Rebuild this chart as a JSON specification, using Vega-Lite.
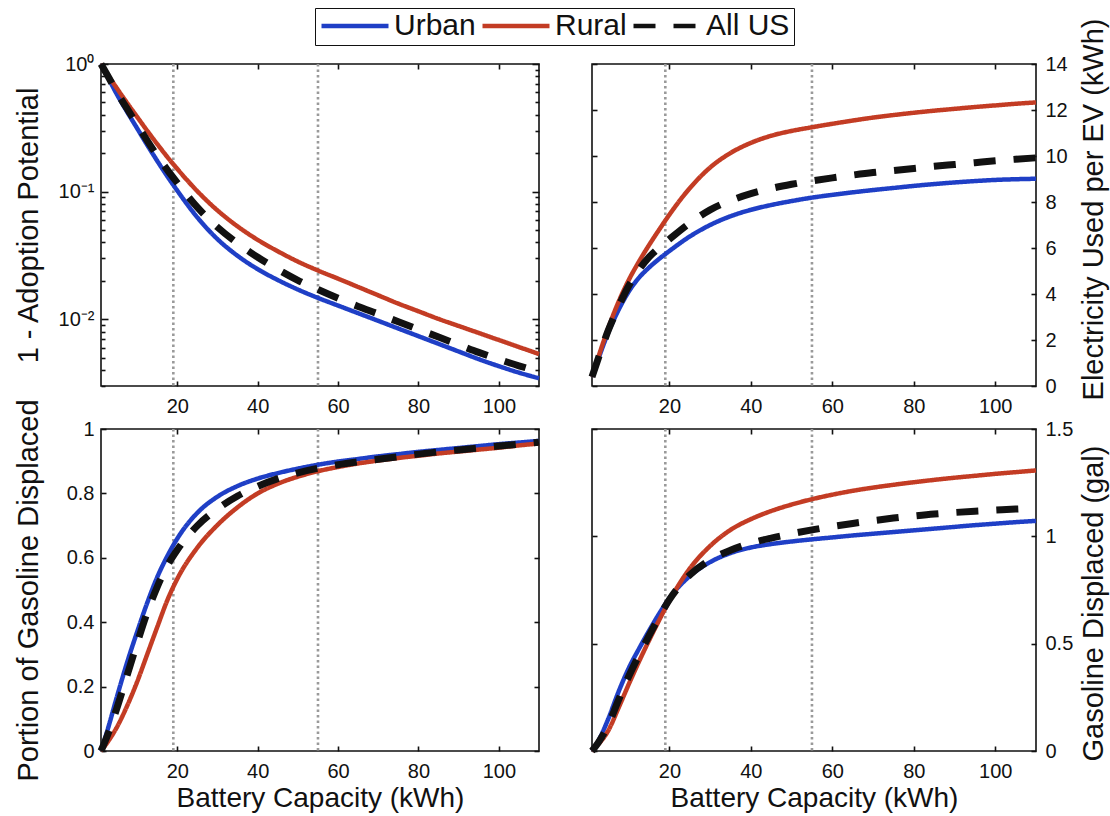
{
  "$schema": "https://vega.github.io/schema/vega-lite/v6.json",
  "background": "white",
  "padding": {"left": 13, "top": 7, "right": 5, "bottom": 5},
  "config": {
    "font": "Liberation Sans",
    "view": {"stroke": "#111111", "strokeWidth": 1.6},
    "axis": {
      "domain": false, "grid": false, "tickColor": "#111111", "tickWidth": 1.6, "tickSize": -5,
      "labelFont": "Liberation Sans", "labelFontSize": 20, "labelColor": "#111111",
      "titleFont": "Liberation Sans", "titleFontSize": 28, "titleFontWeight": "normal", "titleColor": "#111111"
    },
    "axisY": {"titleFontSize": 29},
    "legend": {
      "orient": "none", "legendX": 214, "legendY": -56, "direction": "horizontal",
      "labelFont": "Liberation Sans", "labelFontSize": 30, "labelColor": "#111111", "labelLimit": 0,
      "symbolType": "stroke", "symbolSize": 4489, "symbolStrokeWidth": 4.5, "clipHeight": 28,
      "strokeColor": "#111111", "fillColor": "white", "padding": 4, "columnPadding": 4, "labelOffset": 3
    }
  },
  "datasets": {
    "refs": [{"kwh": 19}, {"kwh": 55}],
    "adopt": [
      {"r":"Urban","kwh":1,"v":1.0},{"r":"Urban","kwh":2.5,"v":0.813},{"r":"Urban","kwh":5,"v":0.575},{"r":"Urban","kwh":7.5,"v":0.422},{"r":"Urban","kwh":10,"v":0.313},{"r":"Urban","kwh":12.5,"v":0.232},{"r":"Urban","kwh":15,"v":0.174},{"r":"Urban","kwh":17.5,"v":0.132},{"r":"Urban","kwh":20,"v":0.1017},{"r":"Urban","kwh":25,"v":0.0627},{"r":"Urban","kwh":30,"v":0.0424},{"r":"Urban","kwh":35,"v":0.0314},{"r":"Urban","kwh":40,"v":0.0247},{"r":"Urban","kwh":45,"v":0.0203},{"r":"Urban","kwh":50,"v":0.0171},{"r":"Urban","kwh":55,"v":0.0147},{"r":"Urban","kwh":60,"v":0.0128},{"r":"Urban","kwh":65,"v":0.01115},{"r":"Urban","kwh":70,"v":0.00972},{"r":"Urban","kwh":75,"v":0.00846},{"r":"Urban","kwh":80,"v":0.00737},{"r":"Urban","kwh":85,"v":0.00642},{"r":"Urban","kwh":90,"v":0.00559},{"r":"Urban","kwh":95,"v":0.00487},{"r":"Urban","kwh":100,"v":0.00429},{"r":"Urban","kwh":105,"v":0.00382},{"r":"Urban","kwh":110,"v":0.00345},
      {"r":"Rural","kwh":1,"v":1.0},{"r":"Rural","kwh":2.5,"v":0.841},{"r":"Rural","kwh":5,"v":0.642},{"r":"Rural","kwh":7.5,"v":0.495},{"r":"Rural","kwh":10,"v":0.385},{"r":"Rural","kwh":12.5,"v":0.300},{"r":"Rural","kwh":15,"v":0.236},{"r":"Rural","kwh":17.5,"v":0.187},{"r":"Rural","kwh":20,"v":0.1505},{"r":"Rural","kwh":25,"v":0.1006},{"r":"Rural","kwh":30,"v":0.0712},{"r":"Rural","kwh":35,"v":0.0534},{"r":"Rural","kwh":40,"v":0.0419},{"r":"Rural","kwh":45,"v":0.0341},{"r":"Rural","kwh":50,"v":0.0283},{"r":"Rural","kwh":55,"v":0.0241},{"r":"Rural","kwh":60,"v":0.0208},{"r":"Rural","kwh":65,"v":0.0179},{"r":"Rural","kwh":70,"v":0.0154},{"r":"Rural","kwh":75,"v":0.01326},{"r":"Rural","kwh":80,"v":0.01155},{"r":"Rural","kwh":85,"v":0.01006},{"r":"Rural","kwh":90,"v":0.00886},{"r":"Rural","kwh":95,"v":0.00781},{"r":"Rural","kwh":100,"v":0.00688},{"r":"Rural","kwh":105,"v":0.00606},{"r":"Rural","kwh":110,"v":0.00534},
      {"r":"All US","kwh":1,"v":1.0},{"r":"All US","kwh":2.5,"v":0.829},{"r":"All US","kwh":5,"v":0.598},{"r":"All US","kwh":7.5,"v":0.447},{"r":"All US","kwh":10,"v":0.335},{"r":"All US","kwh":12.5,"v":0.251},{"r":"All US","kwh":15,"v":0.191},{"r":"All US","kwh":17.5,"v":0.148},{"r":"All US","kwh":20,"v":0.117},{"r":"All US","kwh":25,"v":0.0752},{"r":"All US","kwh":30,"v":0.0526},{"r":"All US","kwh":35,"v":0.0393},{"r":"All US","kwh":40,"v":0.0306},{"r":"All US","kwh":45,"v":0.0246},{"r":"All US","kwh":50,"v":0.0202},{"r":"All US","kwh":55,"v":0.0171},{"r":"All US","kwh":60,"v":0.0146},{"r":"All US","kwh":65,"v":0.0126},{"r":"All US","kwh":70,"v":0.0110},{"r":"All US","kwh":75,"v":0.00956},{"r":"All US","kwh":80,"v":0.00833},{"r":"All US","kwh":85,"v":0.00725},{"r":"All US","kwh":90,"v":0.00632},{"r":"All US","kwh":95,"v":0.0055},{"r":"All US","kwh":100,"v":0.00485},{"r":"All US","kwh":105,"v":0.00432},{"r":"All US","kwh":110,"v":0.0039}
    ],
    "elec": [
      {"r":"Urban","kwh":1,"v":0.4},{"r":"Urban","kwh":2.5,"v":1.15},{"r":"Urban","kwh":5,"v":2.33},{"r":"Urban","kwh":7.5,"v":3.3},{"r":"Urban","kwh":10,"v":4.1},{"r":"Urban","kwh":12.5,"v":4.7},{"r":"Urban","kwh":15,"v":5.15},{"r":"Urban","kwh":17.5,"v":5.53},{"r":"Urban","kwh":20,"v":5.87},{"r":"Urban","kwh":25,"v":6.5},{"r":"Urban","kwh":30,"v":7.0},{"r":"Urban","kwh":35,"v":7.38},{"r":"Urban","kwh":40,"v":7.66},{"r":"Urban","kwh":45,"v":7.87},{"r":"Urban","kwh":50,"v":8.04},{"r":"Urban","kwh":55,"v":8.19},{"r":"Urban","kwh":60,"v":8.31},{"r":"Urban","kwh":65,"v":8.42},{"r":"Urban","kwh":70,"v":8.52},{"r":"Urban","kwh":75,"v":8.61},{"r":"Urban","kwh":80,"v":8.7},{"r":"Urban","kwh":85,"v":8.78},{"r":"Urban","kwh":90,"v":8.85},{"r":"Urban","kwh":95,"v":8.91},{"r":"Urban","kwh":100,"v":8.96},{"r":"Urban","kwh":105,"v":8.99},{"r":"Urban","kwh":110,"v":9.01},
      {"r":"Rural","kwh":1,"v":0.4},{"r":"Rural","kwh":2.5,"v":1.225},{"r":"Rural","kwh":5,"v":2.525},{"r":"Rural","kwh":7.5,"v":3.65},{"r":"Rural","kwh":10,"v":4.6},{"r":"Rural","kwh":12.5,"v":5.4},{"r":"Rural","kwh":15,"v":6.125},{"r":"Rural","kwh":17.5,"v":6.8},{"r":"Rural","kwh":20,"v":7.45},{"r":"Rural","kwh":25,"v":8.6},{"r":"Rural","kwh":30,"v":9.5},{"r":"Rural","kwh":35,"v":10.13},{"r":"Rural","kwh":40,"v":10.57},{"r":"Rural","kwh":45,"v":10.88},{"r":"Rural","kwh":50,"v":11.09},{"r":"Rural","kwh":55,"v":11.25},{"r":"Rural","kwh":60,"v":11.4},{"r":"Rural","kwh":65,"v":11.54},{"r":"Rural","kwh":70,"v":11.67},{"r":"Rural","kwh":75,"v":11.78},{"r":"Rural","kwh":80,"v":11.88},{"r":"Rural","kwh":85,"v":11.97},{"r":"Rural","kwh":90,"v":12.05},{"r":"Rural","kwh":95,"v":12.13},{"r":"Rural","kwh":100,"v":12.2},{"r":"Rural","kwh":105,"v":12.27},{"r":"Rural","kwh":110,"v":12.33},
      {"r":"All US","kwh":1,"v":0.4},{"r":"All US","kwh":2.5,"v":1.18},{"r":"All US","kwh":5,"v":2.42},{"r":"All US","kwh":7.5,"v":3.45},{"r":"All US","kwh":10,"v":4.35},{"r":"All US","kwh":12.5,"v":5.05},{"r":"All US","kwh":15,"v":5.6},{"r":"All US","kwh":17.5,"v":6.02},{"r":"All US","kwh":20,"v":6.38},{"r":"All US","kwh":25,"v":7.08},{"r":"All US","kwh":30,"v":7.66},{"r":"All US","kwh":35,"v":8.06},{"r":"All US","kwh":40,"v":8.36},{"r":"All US","kwh":45,"v":8.59},{"r":"All US","kwh":50,"v":8.77},{"r":"All US","kwh":55,"v":8.92},{"r":"All US","kwh":60,"v":9.05},{"r":"All US","kwh":65,"v":9.17},{"r":"All US","kwh":70,"v":9.28},{"r":"All US","kwh":75,"v":9.37},{"r":"All US","kwh":80,"v":9.46},{"r":"All US","kwh":85,"v":9.55},{"r":"All US","kwh":90,"v":9.63},{"r":"All US","kwh":95,"v":9.71},{"r":"All US","kwh":100,"v":9.79},{"r":"All US","kwh":105,"v":9.86},{"r":"All US","kwh":110,"v":9.92}
    ],
    "frac": [
      {"r":"Urban","kwh":1,"v":0.0},{"r":"Urban","kwh":2.5,"v":0.06},{"r":"Urban","kwh":5,"v":0.17},{"r":"Urban","kwh":7.5,"v":0.275},{"r":"Urban","kwh":10,"v":0.37},{"r":"Urban","kwh":12.5,"v":0.46},{"r":"Urban","kwh":15,"v":0.54},{"r":"Urban","kwh":17.5,"v":0.605},{"r":"Urban","kwh":20,"v":0.66},{"r":"Urban","kwh":25,"v":0.74},{"r":"Urban","kwh":30,"v":0.79},{"r":"Urban","kwh":35,"v":0.823},{"r":"Urban","kwh":40,"v":0.846},{"r":"Urban","kwh":45,"v":0.863},{"r":"Urban","kwh":50,"v":0.877},{"r":"Urban","kwh":55,"v":0.889},{"r":"Urban","kwh":60,"v":0.899},{"r":"Urban","kwh":65,"v":0.907},{"r":"Urban","kwh":70,"v":0.915},{"r":"Urban","kwh":75,"v":0.922},{"r":"Urban","kwh":80,"v":0.929},{"r":"Urban","kwh":85,"v":0.935},{"r":"Urban","kwh":90,"v":0.941},{"r":"Urban","kwh":95,"v":0.947},{"r":"Urban","kwh":100,"v":0.953},{"r":"Urban","kwh":105,"v":0.958},{"r":"Urban","kwh":110,"v":0.963},
      {"r":"Rural","kwh":1,"v":0.0},{"r":"Rural","kwh":2.5,"v":0.025},{"r":"Rural","kwh":5,"v":0.075},{"r":"Rural","kwh":7.5,"v":0.14},{"r":"Rural","kwh":10,"v":0.215},{"r":"Rural","kwh":12.5,"v":0.3},{"r":"Rural","kwh":15,"v":0.385},{"r":"Rural","kwh":17.5,"v":0.468},{"r":"Rural","kwh":20,"v":0.535},{"r":"Rural","kwh":25,"v":0.632},{"r":"Rural","kwh":30,"v":0.702},{"r":"Rural","kwh":35,"v":0.757},{"r":"Rural","kwh":40,"v":0.8},{"r":"Rural","kwh":45,"v":0.83},{"r":"Rural","kwh":50,"v":0.852},{"r":"Rural","kwh":55,"v":0.869},{"r":"Rural","kwh":60,"v":0.882},{"r":"Rural","kwh":65,"v":0.893},{"r":"Rural","kwh":70,"v":0.902},{"r":"Rural","kwh":75,"v":0.91},{"r":"Rural","kwh":80,"v":0.917},{"r":"Rural","kwh":85,"v":0.924},{"r":"Rural","kwh":90,"v":0.93},{"r":"Rural","kwh":95,"v":0.936},{"r":"Rural","kwh":100,"v":0.942},{"r":"Rural","kwh":105,"v":0.949},{"r":"Rural","kwh":110,"v":0.955},
      {"r":"All US","kwh":1,"v":0.0},{"r":"All US","kwh":2.5,"v":0.045},{"r":"All US","kwh":5,"v":0.135},{"r":"All US","kwh":7.5,"v":0.235},{"r":"All US","kwh":10,"v":0.335},{"r":"All US","kwh":12.5,"v":0.43},{"r":"All US","kwh":15,"v":0.51},{"r":"All US","kwh":17.5,"v":0.575},{"r":"All US","kwh":20,"v":0.625},{"r":"All US","kwh":25,"v":0.7},{"r":"All US","kwh":30,"v":0.752},{"r":"All US","kwh":35,"v":0.792},{"r":"All US","kwh":40,"v":0.822},{"r":"All US","kwh":45,"v":0.846},{"r":"All US","kwh":50,"v":0.864},{"r":"All US","kwh":55,"v":0.878},{"r":"All US","kwh":60,"v":0.889},{"r":"All US","kwh":65,"v":0.898},{"r":"All US","kwh":70,"v":0.906},{"r":"All US","kwh":75,"v":0.914},{"r":"All US","kwh":80,"v":0.922},{"r":"All US","kwh":85,"v":0.929},{"r":"All US","kwh":90,"v":0.935},{"r":"All US","kwh":95,"v":0.941},{"r":"All US","kwh":100,"v":0.947},{"r":"All US","kwh":105,"v":0.953},{"r":"All US","kwh":110,"v":0.959}
    ],
    "gal": [
      {"r":"Urban","kwh":1,"v":0.0},{"r":"Urban","kwh":2.5,"v":0.045},{"r":"Urban","kwh":5,"v":0.15},{"r":"Urban","kwh":7.5,"v":0.275},{"r":"Urban","kwh":10,"v":0.385},{"r":"Urban","kwh":12.5,"v":0.475},{"r":"Urban","kwh":15,"v":0.56},{"r":"Urban","kwh":17.5,"v":0.64},{"r":"Urban","kwh":20,"v":0.712},{"r":"Urban","kwh":25,"v":0.815},{"r":"Urban","kwh":30,"v":0.88},{"r":"Urban","kwh":35,"v":0.922},{"r":"Urban","kwh":40,"v":0.948},{"r":"Urban","kwh":45,"v":0.964},{"r":"Urban","kwh":50,"v":0.976},{"r":"Urban","kwh":55,"v":0.986},{"r":"Urban","kwh":60,"v":0.995},{"r":"Urban","kwh":65,"v":1.004},{"r":"Urban","kwh":70,"v":1.012},{"r":"Urban","kwh":75,"v":1.02},{"r":"Urban","kwh":80,"v":1.028},{"r":"Urban","kwh":85,"v":1.036},{"r":"Urban","kwh":90,"v":1.044},{"r":"Urban","kwh":95,"v":1.052},{"r":"Urban","kwh":100,"v":1.059},{"r":"Urban","kwh":105,"v":1.066},{"r":"Urban","kwh":110,"v":1.072},
      {"r":"Rural","kwh":1,"v":0.0},{"r":"Rural","kwh":2.5,"v":0.03},{"r":"Rural","kwh":5,"v":0.095},{"r":"Rural","kwh":7.5,"v":0.2},{"r":"Rural","kwh":10,"v":0.31},{"r":"Rural","kwh":12.5,"v":0.415},{"r":"Rural","kwh":15,"v":0.515},{"r":"Rural","kwh":17.5,"v":0.61},{"r":"Rural","kwh":20,"v":0.7},{"r":"Rural","kwh":25,"v":0.85},{"r":"Rural","kwh":30,"v":0.955},{"r":"Rural","kwh":35,"v":1.03},{"r":"Rural","kwh":40,"v":1.08},{"r":"Rural","kwh":45,"v":1.118},{"r":"Rural","kwh":50,"v":1.148},{"r":"Rural","kwh":55,"v":1.173},{"r":"Rural","kwh":60,"v":1.194},{"r":"Rural","kwh":65,"v":1.212},{"r":"Rural","kwh":70,"v":1.227},{"r":"Rural","kwh":75,"v":1.24},{"r":"Rural","kwh":80,"v":1.252},{"r":"Rural","kwh":85,"v":1.263},{"r":"Rural","kwh":90,"v":1.273},{"r":"Rural","kwh":95,"v":1.282},{"r":"Rural","kwh":100,"v":1.291},{"r":"Rural","kwh":105,"v":1.299},{"r":"Rural","kwh":110,"v":1.307},
      {"r":"All US","kwh":1,"v":0.0},{"r":"All US","kwh":2.5,"v":0.038},{"r":"All US","kwh":5,"v":0.122},{"r":"All US","kwh":7.5,"v":0.237},{"r":"All US","kwh":10,"v":0.347},{"r":"All US","kwh":12.5,"v":0.445},{"r":"All US","kwh":15,"v":0.537},{"r":"All US","kwh":17.5,"v":0.625},{"r":"All US","kwh":20,"v":0.705},{"r":"All US","kwh":25,"v":0.82},{"r":"All US","kwh":30,"v":0.89},{"r":"All US","kwh":35,"v":0.935},{"r":"All US","kwh":40,"v":0.968},{"r":"All US","kwh":45,"v":0.992},{"r":"All US","kwh":50,"v":1.012},{"r":"All US","kwh":55,"v":1.03},{"r":"All US","kwh":60,"v":1.046},{"r":"All US","kwh":65,"v":1.06},{"r":"All US","kwh":70,"v":1.073},{"r":"All US","kwh":75,"v":1.085},{"r":"All US","kwh":80,"v":1.095},{"r":"All US","kwh":85,"v":1.104},{"r":"All US","kwh":90,"v":1.111},{"r":"All US","kwh":95,"v":1.117},{"r":"All US","kwh":100,"v":1.122},{"r":"All US","kwh":105,"v":1.127},{"r":"All US","kwh":110,"v":1.131}
    ]
  },
  "columns": 2,
  "spacing": {"row": 43, "column": 53},
  "bounds": "flush",
  "resolve": {"scale": {"color": "shared", "strokeDash": "shared"}},
  "concat": [
    {
      "width": 438, "height": 322,
      "layer": [
        {"data": {"name": "refs"}, "mark": {"type": "rule", "color": "#9a9a9a", "strokeWidth": 2.6, "strokeDash": [2.5, 3]},
         "encoding": {"x": {"field": "kwh", "type": "quantitative", "scale": {"domain": [1, 110], "nice": false, "zero": false}, "axis": {"orient": "top", "values": [20, 40, 60, 80, 100], "labels": false, "title": null}}}},
        {"data": {"name": "adopt"}, "mark": {"type": "line", "interpolate": "monotone", "strokeCap": "butt"},
         "encoding": {
           "x": {"field": "kwh", "type": "quantitative", "scale": {"domain": [1, 110], "nice": false, "zero": false}, "axis": {"orient": "bottom", "values": [20, 40, 60, 80, 100], "title": null, "labelPadding": 15}},
           "y": {"field": "v", "type": "quantitative", "scale": {"type": "log", "domain": [0.003, 1], "nice": false}, "axis": {"orient": "left", "values": [0.01, 0.1, 1], "labelExpr": "datum.value > 0.5 ? '10⁰' : datum.value > 0.05 ? '10⁻¹' : '10⁻²'", "tickSize": -7, "labelPadding": 14, "title": "1 - Adoption Potential", "titleBaseline": "alphabetic", "titleX": -64}},
           "color": {"field": "r", "type": "nominal", "scale": {"domain": ["Urban", "Rural", "All US"], "range": ["#1f3fc6", "#c33c24", "#111111"]}, "legend": {"title": null}},
           "strokeDash": {"field": "r", "type": "nominal", "scale": {"domain": ["Urban", "Rural", "All US"], "range": [[1, 0], [1, 0], [22, 18]]}, "legend": {"title": null}},
           "strokeWidth": {"condition": {"test": "datum.r === 'All US'", "value": 7}, "value": 4.5}
         }},
        {"data": {"name": "adopt"}, "mark": {"type": "point", "opacity": 0},
         "encoding": {"x": {"field": "kwh", "type": "quantitative", "scale": {"domain": [1, 110], "nice": false, "zero": false}, "axis": null},
           "y": {"field": "v", "type": "quantitative", "scale": {"type": "log", "domain": [0.003, 1], "nice": false}, "axis": {"orient": "right", "values": [0.01, 0.1, 1], "labels": false, "title": null, "tickSize": -7}}}},
        {"data": {"name": "adopt"}, "mark": {"type": "point", "opacity": 0},
         "encoding": {"x": {"field": "kwh", "type": "quantitative", "scale": {"domain": [1, 110], "nice": false, "zero": false}, "axis": null},
           "y": {"field": "v", "type": "quantitative", "scale": {"type": "log", "domain": [0.003, 1], "nice": false}, "axis": {"orient": "left", "values": [0.003, 0.004, 0.005, 0.006, 0.007, 0.008, 0.009, 0.02, 0.03, 0.04, 0.05, 0.06, 0.07, 0.08, 0.09, 0.2, 0.3, 0.4, 0.5, 0.6, 0.7, 0.8, 0.9], "labels": false, "title": null, "tickSize": -4}}}},
        {"data": {"name": "adopt"}, "mark": {"type": "point", "opacity": 0},
         "encoding": {"x": {"field": "kwh", "type": "quantitative", "scale": {"domain": [1, 110], "nice": false, "zero": false}, "axis": null},
           "y": {"field": "v", "type": "quantitative", "scale": {"type": "log", "domain": [0.003, 1], "nice": false}, "axis": {"orient": "right", "values": [0.003, 0.004, 0.005, 0.006, 0.007, 0.008, 0.009, 0.02, 0.03, 0.04, 0.05, 0.06, 0.07, 0.08, 0.09, 0.2, 0.3, 0.4, 0.5, 0.6, 0.7, 0.8, 0.9], "labels": false, "title": null, "tickSize": -4}}}}
      ],
      "resolve": {"axis": {"x": "independent", "y": "independent"}}
    },
    {
      "width": 444, "height": 322,
      "layer": [
        {"data": {"name": "refs"}, "mark": {"type": "rule", "color": "#9a9a9a", "strokeWidth": 2.6, "strokeDash": [2.5, 3]},
         "encoding": {"x": {"field": "kwh", "type": "quantitative", "scale": {"domain": [1, 110], "nice": false, "zero": false}, "axis": {"orient": "top", "values": [20, 40, 60, 80, 100], "labels": false, "title": null}}}},
        {"data": {"name": "elec"}, "mark": {"type": "line", "interpolate": "monotone", "strokeCap": "butt"},
         "encoding": {
           "x": {"field": "kwh", "type": "quantitative", "scale": {"domain": [1, 110], "nice": false, "zero": false}, "axis": {"orient": "bottom", "values": [20, 40, 60, 80, 100], "title": null, "labelPadding": 15}},
           "y": {"field": "v", "type": "quantitative", "scale": {"domain": [0, 14], "nice": false}, "axis": {"orient": "right", "values": [0, 2, 4, 6, 8, 10, 12, 14], "labelPadding": 14, "title": "Electricity Used per EV (kWh)", "titleAngle": 270, "titleBaseline": "alphabetic", "titleX": 66, "titleY": 145}},
           "color": {"field": "r", "type": "nominal", "scale": {"domain": ["Urban", "Rural", "All US"], "range": ["#1f3fc6", "#c33c24", "#111111"]}, "legend": {"title": null}},
           "strokeDash": {"field": "r", "type": "nominal", "scale": {"domain": ["Urban", "Rural", "All US"], "range": [[1, 0], [1, 0], [22, 18]]}, "legend": {"title": null}},
           "strokeWidth": {"condition": {"test": "datum.r === 'All US'", "value": 7}, "value": 4.5}
         }},
        {"data": {"name": "elec"}, "mark": {"type": "point", "opacity": 0},
         "encoding": {"x": {"field": "kwh", "type": "quantitative", "scale": {"domain": [1, 110], "nice": false, "zero": false}, "axis": null},
           "y": {"field": "v", "type": "quantitative", "scale": {"domain": [0, 14], "nice": false}, "axis": {"orient": "left", "values": [0, 2, 4, 6, 8, 10, 12, 14], "labels": false, "title": null}}}}
      ],
      "resolve": {"axis": {"x": "independent", "y": "independent"}}
    },
    {
      "width": 438, "height": 322,
      "layer": [
        {"data": {"name": "refs"}, "mark": {"type": "rule", "color": "#9a9a9a", "strokeWidth": 2.6, "strokeDash": [2.5, 3]},
         "encoding": {"x": {"field": "kwh", "type": "quantitative", "scale": {"domain": [1, 110], "nice": false, "zero": false}, "axis": {"orient": "top", "values": [20, 40, 60, 80, 100], "labels": false, "title": null}}}},
        {"data": {"name": "frac"}, "mark": {"type": "line", "interpolate": "monotone", "strokeCap": "butt"},
         "encoding": {
           "x": {"field": "kwh", "type": "quantitative", "scale": {"domain": [1, 110], "nice": false, "zero": false}, "axis": {"orient": "bottom", "values": [20, 40, 60, 80, 100], "title": "Battery Capacity (kWh)", "labelPadding": 15, "titleBaseline": "alphabetic", "titleY": 55}},
           "y": {"field": "v", "type": "quantitative", "scale": {"domain": [0, 1], "nice": false}, "axis": {"orient": "left", "values": [0, 0.2, 0.4, 0.6, 0.8, 1], "format": "~g", "labelPadding": 12, "title": "Portion of Gasoline Displaced", "titleBaseline": "alphabetic", "titleX": -64}},
           "color": {"field": "r", "type": "nominal", "scale": {"domain": ["Urban", "Rural", "All US"], "range": ["#1f3fc6", "#c33c24", "#111111"]}, "legend": {"title": null}},
           "strokeDash": {"field": "r", "type": "nominal", "scale": {"domain": ["Urban", "Rural", "All US"], "range": [[1, 0], [1, 0], [22, 18]]}, "legend": {"title": null}},
           "strokeWidth": {"condition": {"test": "datum.r === 'All US'", "value": 7}, "value": 4.5}
         }},
        {"data": {"name": "frac"}, "mark": {"type": "point", "opacity": 0},
         "encoding": {"x": {"field": "kwh", "type": "quantitative", "scale": {"domain": [1, 110], "nice": false, "zero": false}, "axis": null},
           "y": {"field": "v", "type": "quantitative", "scale": {"domain": [0, 1], "nice": false}, "axis": {"orient": "right", "values": [0, 0.2, 0.4, 0.6, 0.8, 1], "labels": false, "title": null}}}}
      ],
      "resolve": {"axis": {"x": "independent", "y": "independent"}}
    },
    {
      "width": 444, "height": 322,
      "layer": [
        {"data": {"name": "refs"}, "mark": {"type": "rule", "color": "#9a9a9a", "strokeWidth": 2.6, "strokeDash": [2.5, 3]},
         "encoding": {"x": {"field": "kwh", "type": "quantitative", "scale": {"domain": [1, 110], "nice": false, "zero": false}, "axis": {"orient": "top", "values": [20, 40, 60, 80, 100], "labels": false, "title": null}}}},
        {"data": {"name": "gal"}, "mark": {"type": "line", "interpolate": "monotone", "strokeCap": "butt"},
         "encoding": {
           "x": {"field": "kwh", "type": "quantitative", "scale": {"domain": [1, 110], "nice": false, "zero": false}, "axis": {"orient": "bottom", "values": [20, 40, 60, 80, 100], "title": "Battery Capacity (kWh)", "labelPadding": 15, "titleBaseline": "alphabetic", "titleY": 55}},
           "y": {"field": "v", "type": "quantitative", "scale": {"domain": [0, 1.5], "nice": false}, "axis": {"orient": "right", "values": [0, 0.5, 1, 1.5], "format": "~g", "labelPadding": 14, "title": "Gasoline Displaced (gal)", "titleAngle": 270, "titleBaseline": "alphabetic", "titleX": 66, "titleY": 174}},
           "color": {"field": "r", "type": "nominal", "scale": {"domain": ["Urban", "Rural", "All US"], "range": ["#1f3fc6", "#c33c24", "#111111"]}, "legend": {"title": null}},
           "strokeDash": {"field": "r", "type": "nominal", "scale": {"domain": ["Urban", "Rural", "All US"], "range": [[1, 0], [1, 0], [22, 18]]}, "legend": {"title": null}},
           "strokeWidth": {"condition": {"test": "datum.r === 'All US'", "value": 7}, "value": 4.5}
         }},
        {"data": {"name": "gal"}, "mark": {"type": "point", "opacity": 0},
         "encoding": {"x": {"field": "kwh", "type": "quantitative", "scale": {"domain": [1, 110], "nice": false, "zero": false}, "axis": null},
           "y": {"field": "v", "type": "quantitative", "scale": {"domain": [0, 1.5], "nice": false}, "axis": {"orient": "left", "values": [0, 0.5, 1, 1.5], "labels": false, "title": null}}}}
      ],
      "resolve": {"axis": {"x": "independent", "y": "independent"}}
    }
  ]
}
